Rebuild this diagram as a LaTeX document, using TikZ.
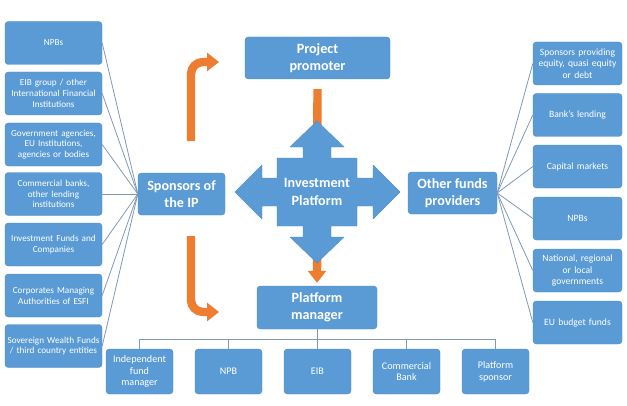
\documentclass[tikz,border=0pt]{standalone}
\usepackage{fontspec}
\setmainfont{Carlito}
\usetikzlibrary{arrows.meta}

\definecolor{boxblue}{RGB}{91,155,213}
\definecolor{edgeblue}{RGB}{80,140,200}
\definecolor{linkgray}{RGB}{128,152,182}
\definecolor{flowor}{RGB}{237,125,49}

\tikzset{
  bluebox/.style={draw=edgeblue, line width=0.3pt, fill=boxblue, rounded corners=2.5pt,
    text=white, align=center, inner sep=0pt},
  leftbox/.style={bluebox, minimum width=72.75pt, minimum height=32.25pt, text width=72pt,
    font=\fontsize{6.9}{8.1}\selectfont},
  rightbox/.style={bluebox, minimum width=66.75pt, minimum height=32.25pt, text width=66pt,
    font=\fontsize{7.2}{8.7}\selectfont},
  basebox/.style={bluebox, minimum width=50.25pt, minimum height=33.75pt, text width=50pt,
    font=\fontsize{7.6}{8.8}\selectfont},
  mainbox/.style={bluebox, minimum height=31.5pt, font=\bfseries\fontsize{10.6}{13}\selectfont},
  link/.style={draw=linkgray, line width=0.6pt},
  flow/.style={draw=flowor, line width=6.3pt, -{Triangle[width=13.5pt,length=9pt]}}
}

\begin{document}
\begin{tikzpicture}[x=0.75pt,y=0.75pt,yscale=-1,xscale=1]
\useasboundingbox (0,0) rectangle (627,406);

% Left column: sponsors
\node[leftbox] (lnpb)  at (53.5,43)    {NPBs};
\node[leftbox] (leib)  at (53.5,93.5)  {EIB group / other\\International Financial\\Institutions};
\node[leftbox] (lgov)  at (53.5,144.5) {Government agencies,\\EU Institutions,\\agencies or bodies};
\node[leftbox] (lbank) at (53.5,194)   {Commercial banks,\\other lending\\institutions};
\node[leftbox] (lfund) at (53.5,244.5) {Investment Funds and\\Companies};
\node[leftbox] (lcorp) at (53.5,295.5) {Corporates Managing\\Authorities of ESFI};
\node[leftbox] (lswf)  at (53.5,346)   {Sovereign Wealth Funds\\/ third country entities};

% Right column: other funds
\node[rightbox] (rspon) at (577.5,63.5)  {Sponsors providing\\equity, quasi equity\\or debt};
\node[rightbox] (rbank) at (577.5,115)   {Bank's lending};
\node[rightbox] (rcap)  at (577.5,166.5) {Capital markets};
\node[rightbox] (rnpb)  at (577.5,218.5) {NPBs};
\node[rightbox] (rgov)  at (577.5,270.5) {National, regional\\or local\\governments};
\node[rightbox] (reu)   at (577.5,322.5) {EU budget funds};

% Main boxes
\node[mainbox, minimum width=65.25pt]  (sponsors) at (181.5,194) {Sponsors of\\the IP};
\node[mainbox, minimum width=66.75pt]  (others)   at (452.5,193) {Other funds\\providers};
\node[mainbox, minimum width=108.75pt] (promoter) at (317.5,58)  {Project\\promoter};
\node[mainbox, minimum width=90pt, minimum height=32.25pt] (manager) at (317,307.5) {Platform\\manager};

% Bottom row: manager types
\node[basebox] (bindep) at (139.5,371.5) {Independent\\fund\\manager};
\node[basebox] (bnpb)   at (228.5,371.5) {NPB};
\node[basebox] (beib)   at (317.5,371.5) {EIB};
\node[basebox] (bcomm)  at (406.5,371.5) {Commercial\\Bank};
\node[basebox] (bplat)  at (495.5,371.5) {Platform\\sponsor};

% Straight Lines
\foreach \n in {lnpb,leib,lgov,lbank,lfund,lcorp,lswf}
  \draw[link] (\n.east) -- (sponsors.west);
\foreach \n in {rspon,rbank,rcap,rnpb,rgov,reu}
  \draw[link] (others.east) -- (\n.west);

% Tree under the manager
\coordinate (bus) at (317,339);
\draw[link] (manager.south) -- (manager.south |- bus);
\foreach \n in {bindep,bnpb,beib,bcomm,bplat}
  \draw[link] (\n.north) |- (bus);

% Orange arrows
\draw[flow, shorten <=7.5pt, shorten >=2.25pt] (promoter.south) -- (manager.north);
\coordinate (upstart) at (191,141);
\coordinate (upend) at (219,62);
\coordinate (downstart) at (191,236);
\coordinate (downend) at (219,312);
\draw[flow, rounded corners=9pt] (upstart) |- (upend);
\draw[flow, rounded corners=9pt] (downstart) |- (downend);

% Shape: four-way arrow
\draw[draw=edgeblue, line width=0.3pt, fill=boxblue]
  (317,121) -- (344,147) -- (331,147) -- (331,158) -- (357,158) -- (357,178)
  -- (373,178) -- (373,165) -- (400,192) -- (373,219) -- (373,206) -- (357,206)
  -- (357,226) -- (331,226) -- (331,237) -- (344,237) -- (317,263) -- (290,237)
  -- (303,237) -- (303,226) -- (277,226) -- (277,206) -- (262,206) -- (262,219)
  -- (235,192) -- (262,165) -- (262,178) -- (277,178) -- (277,158) -- (303,158)
  -- (303,147) -- (290,147) -- cycle;
% Text Node
\node[text=white, align=center, font=\bfseries\fontsize{10.6}{13}\selectfont] (ip) at (317,192) {Investment\\Platform};
\end{tikzpicture}
\end{document}
